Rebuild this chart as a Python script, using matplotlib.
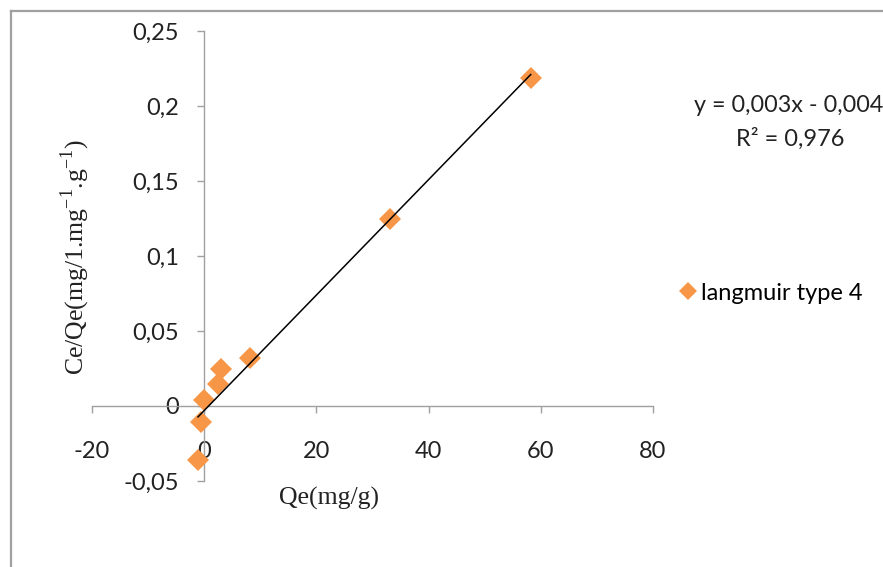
import numpy as np
import matplotlib
matplotlib.use("Agg")
import matplotlib.pyplot as plt
from matplotlib.lines import Line2D

# Langmuir type 4 linearisation data
qe = [58.2, 33.2, 8.1, 3.0, 2.4, 0.0, -0.6, -1.1]
ce_qe = [0.2185, 0.125, 0.032, 0.025, 0.015, 0.004, -0.0105, -0.036]

x_ticks = [-20, 0, 20, 40, 60, 80]
y_ticks = [-0.05, 0, 0.05, 0.1, 0.15, 0.2, 0.25]
y_ticklabels = ["-0,05", "0", "0,05", "0,1", "0,15", "0,2", "0,25"]

eq_text = "y = 0,003x - 0,004"
r2_text = "R² = 0,976"
series_name = "langmuir type 4"

plt.rcParams["mathtext.fontset"] = "custom"
plt.rcParams["mathtext.rm"] = "Liberation Serif"

orange = "#F79646"
grey = "#A0A0A0"
txt = "#222222"

fig = plt.figure(figsize=(8.83, 5.67), dpi=100)
ax = fig.add_axes([92 / 883, 1 - 481 / 567, (653 - 92) / 883, (481 - 31) / 567])

ax.plot(qe, ce_qe, linestyle="none", marker="D", markersize=11,
        color=orange, markeredgewidth=0, zorder=3, label=series_name)

# linear trendline across the data range
slope, intercept = np.polyfit(qe, ce_qe, 1)
xs = np.array([min(qe), max(qe)])
ax.plot(xs, slope * xs + intercept, color="black", linewidth=1.1, zorder=4)

ax.set_xlim(-20, 80)
ax.set_ylim(-0.05, 0.25)

for side in ["top", "right"]:
    ax.spines[side].set_visible(False)
ax.spines["left"].set_position(("data", 0))
ax.spines["bottom"].set_position(("data", 0))
for side in ["left", "bottom"]:
    ax.spines[side].set_color(grey)
    ax.spines[side].set_linewidth(1.0)

ax.set_xticks(x_ticks)
ax.set_xticklabels([str(t) for t in x_ticks])
ax.set_yticks(y_ticks)
ax.set_yticklabels(y_ticklabels)
ax.tick_params(axis="both", direction="out", length=5, width=1.0, color=grey,
               labelsize=17, labelcolor=txt)
ax.tick_params(axis="y", pad=13)
ax.tick_params(axis="x", pad=20)
for lab in ax.get_xticklabels() + ax.get_yticklabels():
    lab.set_fontfamily("Lato")

fig.text(329 / 883, 1 - 498 / 567, "Qe(mg/g)", family="Liberation Serif",
         fontsize=18.5, ha="center", va="center", color=txt)
fig.text(75 / 883, 1 - 257 / 567, r"Ce/Qe(mg/1.mg$^{-1}$.g$^{-1}$)",
         family="Liberation Serif", fontsize=18.5, rotation=90,
         ha="center", va="center", color=txt)

fig.text(694 / 883, 1 - 106 / 567, eq_text, family="Lato", fontsize=16.8,
         ha="left", va="center", color=txt)
fig.text(790 / 883, 1 - 139 / 567, r2_text, family="Lato", fontsize=17,
         ha="center", va="center", color=txt)

ax.legend(loc="center left", bbox_to_anchor=(669 / 883, 1 - 293 / 567),
          bbox_transform=fig.transFigure, frameon=False, handlelength=0.6,
          handletextpad=0.25, borderpad=0, markerscale=0.8,
          prop={"family": "Lato", "size": 17})

# outer chart border (cut off at right and bottom)
fig.add_artist(Line2D([11 / 883, 11 / 883], [1 - 11 / 567, -0.1],
                      transform=fig.transFigure, color=grey, linewidth=1.6))
fig.add_artist(Line2D([11 / 883, 1.1], [1 - 11 / 567, 1 - 11 / 567],
                      transform=fig.transFigure, color=grey, linewidth=1.6))

fig.savefig("out.png", dpi=100)
